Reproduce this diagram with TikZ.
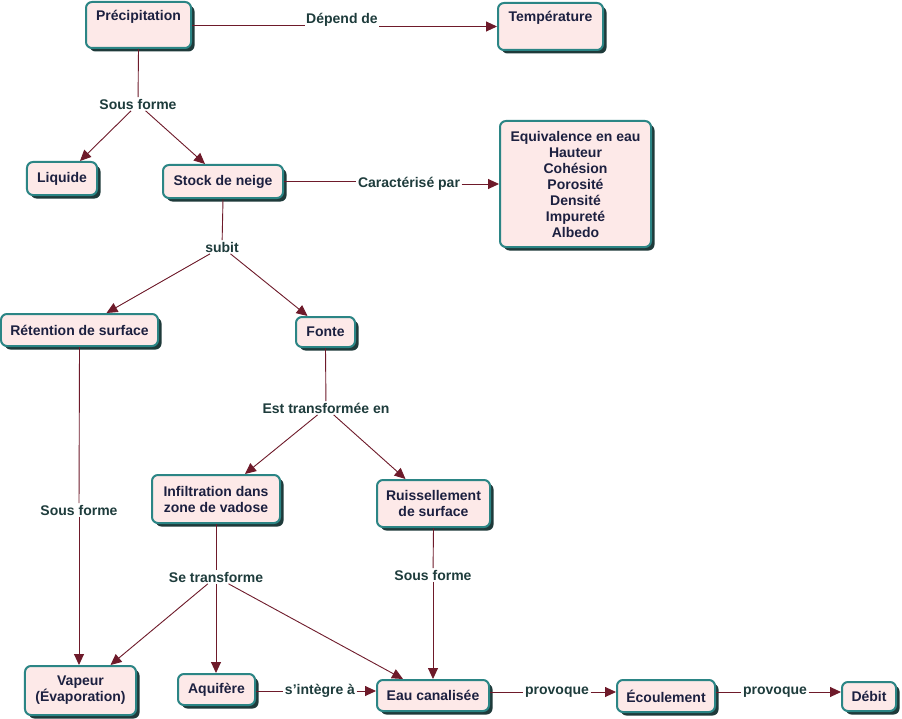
\documentclass[tikz,border=0pt]{standalone}
\usepackage{fontspec}
\setmainfont{Liberation Sans}
\usetikzlibrary{shadows,arrows.meta}
\definecolor{nodefill}{HTML}{FDE9E8}
\definecolor{nodeborder}{HTML}{2B8585}
\definecolor{shadowc}{HTML}{1E3A3A}
\definecolor{linkc}{HTML}{6E1A2A}
\definecolor{nodetext}{HTML}{1C2040}
\definecolor{labeltext}{HTML}{1E3C3C}
\tikzset{
  concept/.style={draw=nodeborder, line width=2bp, fill=nodefill, rounded corners=6bp,
    text=nodetext, font=\fontsize{14bp}{16bp}\selectfont\bfseries, align=center, inner sep=0pt,
    drop shadow={shadow xshift=3.5bp, shadow yshift=-3.5bp, fill=shadowc, opacity=1}},
  linklabel/.style={fill=white, text=labeltext, font=\fontsize{14bp}{16bp}\selectfont\bfseries, inner sep=1.5bp},
  conn/.style={draw=linkc, line width=0.9bp},
  arr/.style={conn, -{Triangle[length=11bp,width=10bp]}},
}
\begin{document}
\begin{tikzpicture}[x=1bp,y=-1bp]
\useasboundingbox[fill=white] (0,0) rectangle (902,719);
% concepts
\node[concept, minimum width=105bp, minimum height=46bp, text height=10bp, text depth=18bp] (prec) at (138.5,25) {Précipitation};
\node[concept, minimum width=105bp, minimum height=47bp, text height=10bp, text depth=19bp] (temp) at (550.5,26.5) {Température};
\node[concept, minimum width=70bp, minimum height=33bp] (liq) at (62,178.5) {Liquide};
\node[concept, minimum width=120bp, minimum height=33bp] (stock) at (223,181.5) {Stock de neige};
\node[concept, minimum width=151bp, minimum height=126bp] (attr) at (575.5,184) {Equivalence en eau\\Hauteur\\Cohésion\\Porosité\\Densité\\Impureté\\Albedo};
\node[concept, minimum width=157bp, minimum height=32bp] (ret) at (79.5,330) {Rétention de surface};
\node[concept, minimum width=59bp, minimum height=30bp] (fonte) at (325.5,332) {Fonte};
\node[concept, minimum width=128bp, minimum height=48bp] (inf) at (216,499) {Infiltration dans\\zone de vadose};
\node[concept, minimum width=113bp, minimum height=47bp] (ruis) at (433.5,503.5) {Ruissellement\\de surface};
\node[concept, minimum width=111bp, minimum height=49bp] (vap) at (80.5,690.5) {Vapeur\\(Évaporation)};
\node[concept, minimum width=77bp, minimum height=31bp] (aqu) at (216.5,689.5) {Aquifère};
\node[concept, minimum width=112bp, minimum height=31bp] (eau) at (433,695.5) {Eau canalisée};
\node[concept, minimum width=98bp, minimum height=32bp] (ecou) at (666,696) {Écoulement};
\node[concept, minimum width=54bp, minimum height=29bp] (debit) at (869,696.5) {Débit};
% linking phrases
\node[linklabel] (dep) at (342,20) {Dépend de};
\node[linklabel] (sf1) at (138,104) {Sous forme};
\node[linklabel] (car) at (409,184) {Caractérisé par};
\node[linklabel] (subit) at (222,247) {subit};
\node[linklabel] (est) at (326,408) {Est transformée en};
\node[linklabel] (sf2) at (79,510) {Sous forme};
\node[linklabel] (se) at (216,577) {Se transforme};
\node[linklabel] (sf3) at (433,575) {Sous forme};
\node[linklabel] (sint) at (320,691) {s’intègre à};
\node[linklabel] (prov1) at (557,692) {provoque};
\node[linklabel] (prov2) at (775,692) {provoque};
% connectors
\draw[conn] (prec.east) -- (prec.east -| dep.west);
\draw[arr] (dep.east |- temp.west) -- (temp.west);
\draw[conn] (prec.south) -- (sf1);
\draw[arr] (sf1) -- ([xshift=18bp]liq.north);
\draw[arr] (sf1) -- ([xshift=-18bp]stock.north);
\draw[conn] (stock.east) -- (stock.east -| car.west);
\draw[arr] (car.east |- attr.west) -- (attr.west);
\draw[conn] (stock.south) -- (subit);
\draw[arr] (subit) -- ([xshift=27bp]ret.north);
\draw[arr] (subit) -- ([xshift=-18bp]fonte.north);
\draw[conn] (ret.south) -- (sf2);
\draw[arr] (sf2) -- (sf2 |- vap.north);
\draw[conn] (fonte.south) -- (est);
\draw[arr] (est) -- ([xshift=29bp]inf.north);
\draw[arr] (est) -- ([xshift=-28bp]ruis.north);
\draw[conn] (inf.south) -- (se);
\draw[arr] (se) -- ([xshift=30bp]vap.north);
\draw[arr] (se) -- (se |- aqu.north);
\draw[arr] (se) -- ([xshift=-30bp]eau.north);
\draw[conn] (ruis.south) -- (sf3);
\draw[arr] (sf3) -- (eau.north);
\draw[conn] (aqu.east |- sint.west) -- (sint.west);
\draw[arr] (sint.east) -- (sint.east -| eau.west);
\draw[conn] (eau.east |- prov1.west) -- (prov1.west);
\draw[arr] (prov1.east) -- (prov1.east -| ecou.west);
\draw[conn] (ecou.east |- prov2.west) -- (prov2.west);
\draw[arr] (prov2.east) -- (prov2.east -| debit.west);
\end{tikzpicture}
\end{document}
